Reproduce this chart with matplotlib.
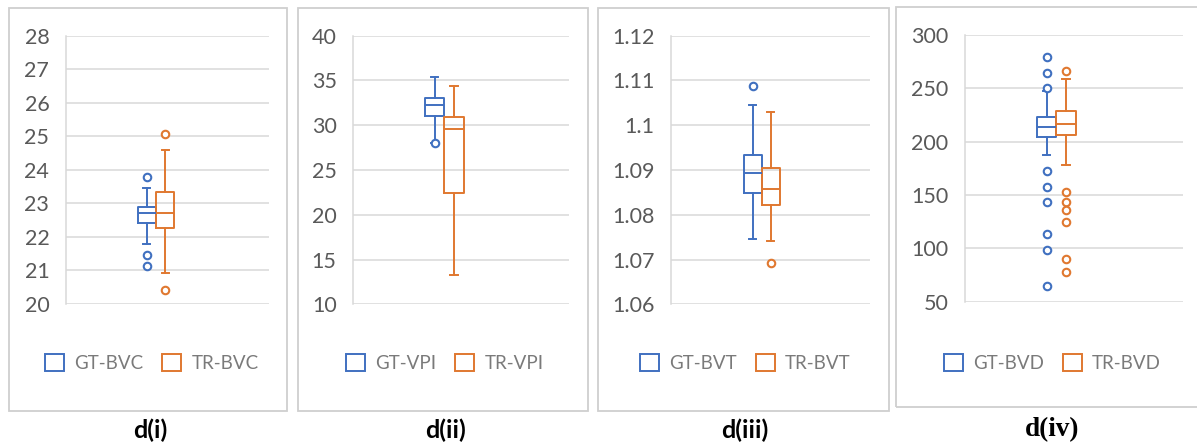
import matplotlib
matplotlib.use("Agg")
import matplotlib.pyplot as plt
from matplotlib.patches import Rectangle
from matplotlib.ticker import FuncFormatter

# ---------------- data ----------------
# panel d(i)
bvc_names = ["GT-BVC", "TR-BVC"]
bvc_q1 = [22.41, 22.28]
bvc_med = [22.72, 22.72]
bvc_q3 = [22.88, 23.34]
bvc_lo = [21.80, 20.91]
bvc_hi = [23.46, 24.59]
bvc_fliers = [[23.78, 21.45, 21.12], [25.08, 20.43]]

# panel d(ii)
vpi_names = ["GT-VPI", "TR-VPI"]
vpi_q1 = [31.07, 22.40]
vpi_med = [32.27, 29.55]
vpi_q3 = [33.08, 30.90]
vpi_lo = [28.0, 13.26]
vpi_hi = [35.36, 34.42]
vpi_fliers = [[28.0], []]

# panel d(iii)
bvt_names = ["GT-BVT", "TR-BVT"]
bvt_q1 = [1.0848, 1.0821]
bvt_med = [1.0894, 1.0857]
bvt_q3 = [1.0933, 1.0905]
bvt_lo = [1.0746, 1.0742]
bvt_hi = [1.1045, 1.1030]
bvt_fliers = [[1.1088], [1.0692]]

# panel d(iv)
bvd_names = ["GT-BVD", "TR-BVD"]
bvd_q1 = [204.6, 206.2]
bvd_med = [214.0, 216.2]
bvd_q3 = [222.8, 228.7]
bvd_lo = [187.4, 178.3]
bvd_hi = [247.8, 258.4]
bvd_fliers = [[279, 264, 250, 172.7, 157.7, 143, 113, 98.3, 64.8],
              [266.2, 152.4, 143.8, 135.8, 124.3, 89.6, 78]]

captions = ["d(i)", "d(ii)", "d(iii)", "d(iv)"]
y_ranges = [(20, 28, 1), (10, 40, 5), (1.06, 1.12, 0.01), (50, 300, 50)]

# ---------------- style ----------------
W, H = 1197, 446
BLUE = "#4070C0"
ORANGE = "#E07830"
colors = [BLUE, ORANGE]
GRID = "#D9D9D9"
TICK_C = "#595959"
LEG_C = "#7A7A7A"
FONT = ["Lato", "DejaVu Sans"]

fig = plt.figure(figsize=(W / 100, H / 100), dpi=100)
fig.patch.set_facecolor("white")


def px_rect(x0, y0, x1, y1):
    return [x0 / W, 1 - y1 / H, (x1 - x0) / W, (y1 - y0) / H]


# panel frames (pixels)
frames = [(9, 8, 287, 411), (298, 8, 588, 411), (598, 8, 889, 411), (896, 7, 1200, 407)]
for (x0, y0, x1, y1) in frames:
    fig.patches.append(Rectangle((x0 / W, 1 - y1 / H), (x1 - x0) / W, (y1 - y0) / H,
                                 transform=fig.transFigure, fill=False,
                                 edgecolor="#CFCFCF", lw=1.3, zorder=0))

# plot areas (pixels)
areas = [(66, 35.7, 269, 304), (353.3, 35.7, 569, 304.3),
         (671, 35.7, 870, 304.3), (965, 35, 1183, 301.7)]
# boundary between the two boxes (fraction of plot width)
splits = [0.443, 0.422, 0.456, 0.419]
legend_cx = [152, 445, 745.5, 1052.8]
caption_cx = [150, 445, 745, 1052]

panels = [
    (bvc_names, bvc_q1, bvc_med, bvc_q3, bvc_lo, bvc_hi, bvc_fliers),
    (vpi_names, vpi_q1, vpi_med, vpi_q3, vpi_lo, vpi_hi, vpi_fliers),
    (bvt_names, bvt_q1, bvt_med, bvt_q3, bvt_lo, bvt_hi, bvt_fliers),
    (bvd_names, bvd_q1, bvd_med, bvd_q3, bvd_lo, bvd_hi, bvd_fliers),
]


def fmt(v, pos):
    s = f"{v:.2f}".rstrip("0").rstrip(".")
    return s


bw = 0.09
for i, (names, q1, med, q3, lo, hi, fl) in enumerate(panels):
    ax = fig.add_axes(px_rect(*areas[i]))
    ymin, ymax, step = y_ranges[i]
    ax.set_ylim(ymin, ymax)
    ax.set_xlim(0, 1)
    n = int(round((ymax - ymin) / step))
    ax.set_yticks([ymin + k * step for k in range(n + 1)])
    ax.yaxis.set_major_formatter(FuncFormatter(fmt))
    ax.set_xticks([])
    ax.grid(axis="y", color=GRID, lw=1.1, zorder=0)
    ax.set_axisbelow(True)
    for s in ["top", "right", "bottom"]:
        ax.spines[s].set_visible(False)
    ax.spines["left"].set_color(GRID)
    ax.spines["left"].set_linewidth(1.1)
    ax.tick_params(axis="y", length=0, pad=12, labelsize=15.5, labelcolor=TICK_C)
    for lab in ax.get_yticklabels():
        lab.set_family(FONT)

    pos = [splits[i] - bw / 2, splits[i] + bw / 2]
    for j in range(2):
        st = [dict(med=med[j], q1=q1[j], q3=q3[j], whislo=lo[j], whishi=hi[j],
                   fliers=fl[j])]
        c = colors[j]
        ax.bxp(st, positions=[pos[j]], widths=bw, capwidths=0.035, showfliers=True,
               boxprops=dict(color=c, lw=1.4),
               medianprops=dict(color=c, lw=1.4),
               whiskerprops=dict(color=c, lw=1.4),
               capprops=dict(color=c, lw=1.4),
               flierprops=dict(marker="o", markersize=5.4, markerfacecolor="white",
                               markeredgecolor=c, markeredgewidth=1.5, linestyle="none",
                               zorder=4),
               manage_ticks=False)

    handles = [Rectangle((0, 0), 1, 1, facecolor="none", edgecolor=colors[j], lw=1.4)
               for j in range(2)]
    leg = ax.legend(handles, names, loc="center",
                    bbox_to_anchor=(legend_cx[i] / W, 1 - 362.7 / H),
                    bbox_transform=fig.transFigure, ncol=2, frameon=False,
                    handlelength=1.0, handleheight=1.0, handletextpad=0.55,
                    columnspacing=1.0, prop=dict(family=FONT, size=13.5))
    for t in leg.get_texts():
        t.set_color(LEG_C)

    if i < 3:
        fig.text(caption_cx[i] / W, 1 - 430 / H, captions[i], ha="center", va="center",
                 fontsize=18, fontweight="bold", family=FONT, color="black")
    else:
        fig.text(caption_cx[i] / W, 1 - 430 / H, captions[i], ha="center", va="center",
                 fontsize=19.5, fontweight="bold", family=["Liberation Serif", "DejaVu Serif"],
                 color="black")

fig.savefig("out.png", dpi=100, facecolor="white")
